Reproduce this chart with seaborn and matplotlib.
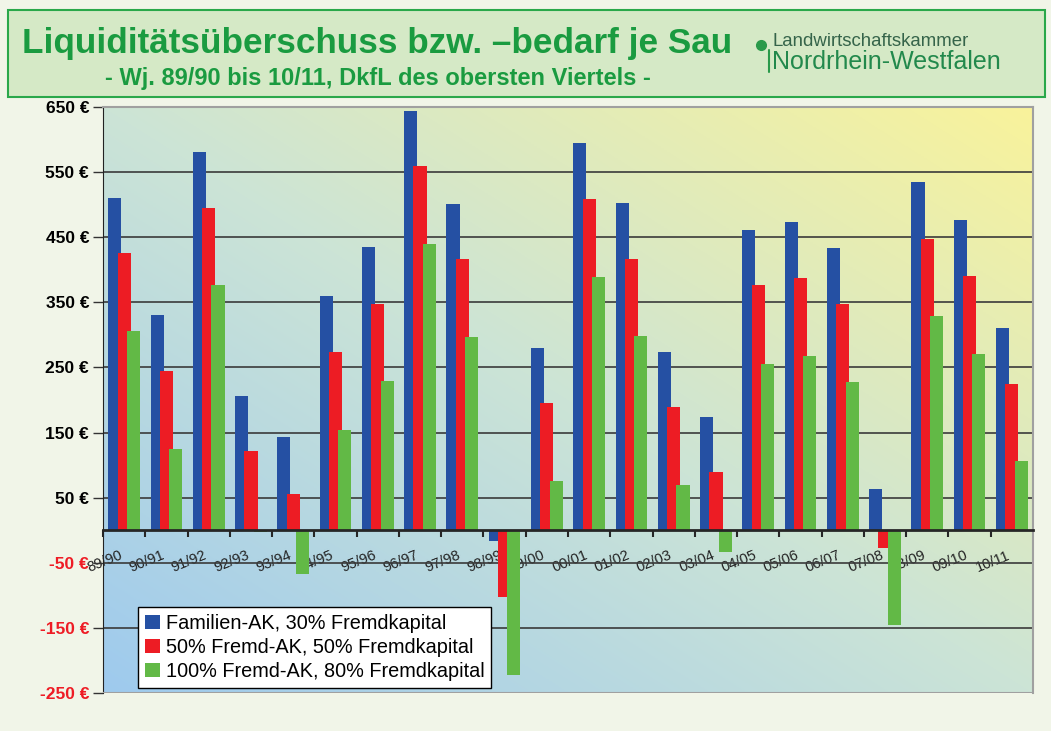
import numpy as np
import pandas as pd
import matplotlib
matplotlib.use("Agg")
import matplotlib.pyplot as plt
import matplotlib.transforms as mtransforms
import seaborn as sns
from matplotlib.patches import Rectangle
from matplotlib.lines import Line2D

# data
seasons = ["89/90", "90/91", "91/92", "92/93", "93/94", "94/95", "95/96", "96/97",
           "97/98", "98/99", "99/00", "00/01", "01/02", "02/03", "03/04", "04/05",
           "05/06", "06/07", "07/08", "08/09", "09/10", "10/11"]
familien_ak = [510, 330, 581, 206, 143, 359, 435, 644, 501, -17, 280, 594,
               503, 274, 174, 461, 474, 433, 63, 535, 476, 311]
fremd_50 = [426, 244, 495, 121, 56, 274, 348, 559, 417, -102, 195, 509,
            417, 189, 89, 376, 388, 348, -27, 448, 391, 224]
fremd_100 = [306, 124, 376, -3, -68, 154, 229, 439, 297, -223, 75, 389,
             298, 69, -34, 256, 268, 227, -146, 329, 270, 106]
series_names = ["Familien-AK, 30% Fremdkapital",
                "50% Fremd-AK, 50% Fremdkapital",
                "100% Fremd-AK, 80% Fremdkapital"]
y_ticks = [-250, -150, -50, 50, 150, 250, 350, 450, 550, 650]

df = pd.DataFrame({
    "season": seasons * 3,
    "series": [series_names[0]] * len(seasons) + [series_names[1]] * len(seasons)
              + [series_names[2]] * len(seasons),
    "value": familien_ak + fremd_50 + fremd_100,
})

sns.set_style("white")
plt.rcParams["font.family"] = ["Liberation Sans", "DejaVu Sans"]
narrow = ["Liberation Sans Narrow", "Liberation Sans", "DejaVu Sans"]

W, H = 1051, 731
fig = plt.figure(figsize=(W / 100, H / 100), dpi=100)
fig.patch.set_facecolor("#f1f5e8")

# title banner
fig.patches.append(Rectangle((8 / W, 1 - 97 / H), (1045 - 8) / W, (97 - 10) / H,
                             transform=fig.transFigure, facecolor="#d5e9c6",
                             edgecolor="#2aa84a", lw=1.5, zorder=0))
fig.text(22 / W, 1 - 44 / H, "Liquiditätsüberschuss bzw. –bedarf je Sau",
         family=narrow, weight="bold", fontsize=25.3, color="#1a9b40", va="center")
fig.text(105 / W, 1 - 78 / H, "- Wj. 89/90 bis 10/11, DkfL des obersten Viertels -",
         family=narrow, weight="bold", fontsize=17, color="#1a9b40", va="center")
# logo
fig.add_artist(Line2D([761 / W], [1 - 45 / H], marker="o", markersize=7,
                      color="#2a9a4a", transform=fig.transFigure))
fig.add_artist(Line2D([769 / W, 769 / W], [1 - 50 / H, 1 - 72 / H], lw=1.5,
                      color="#2a9a4a", transform=fig.transFigure))
fig.text(773 / W, 1 - 41 / H, "Landwirtschaftskammer", family=narrow,
         fontsize=13.4, color="#35644a", va="center")
fig.text(772 / W, 1 - 62 / H, "Nordrhein-Westfalen", family=narrow,
         fontsize=18, color="#22894c", va="center")

ax = fig.add_axes([103 / W, 1 - 693 / H, 930 / W, 586 / H])

# gradient background: blue bottom-left, pale green diagonal, yellow top-right
gx, gy = np.meshgrid(np.linspace(0, 1, 300), np.linspace(0, 1, 300))
t = (gx + gy) / 2
stops = np.array([[158, 202, 238], [204, 228, 214], [249, 243, 155]]) / 255
grad = np.stack([np.interp(t, [0, 0.5, 1], stops[:, k]) for k in range(3)], axis=-1)
ax.imshow(grad, extent=(-0.5, len(seasons) - 0.5, -250, 650),
          origin="lower", aspect="auto", zorder=-10)

sns.barplot(data=df, x="season", y="value", hue="series", hue_order=series_names,
            palette=["#2550a3", "#ed1c24", "#62b946"], saturation=1, width=0.66,
            edgecolor="none", linewidth=0, ax=ax, zorder=3)
# wider, slightly overlapping bars as in the original
for cont in ax.containers:
    for p in cont:
        c = p.get_x() + p.get_width() / 2
        p.set_width(0.31)
        p.set_x(c - 0.155)

ax.set_xlim(-0.5, len(seasons) - 0.5)
ax.set_ylim(-250, 650)
ax.set_yticks(y_ticks)
ax.set_yticklabels([f"{v} €" for v in y_ticks], weight="bold", fontsize=12.5)
for lbl, v in zip(ax.get_yticklabels(), y_ticks):
    lbl.set_color("#ee1c25" if v < 0 else "black")
ax.tick_params(axis="y", length=7, width=1, color="#333333", pad=3, left=True)
ax.yaxis.grid(True, color="#3a3a3a", lw=1.2)
ax.set_axisbelow(True)
ax.set_xlabel("")
ax.set_ylabel("")

# category axis at zero
ax.spines["bottom"].set_position(("data", 0))
ax.spines["bottom"].set_linewidth(2)
ax.spines["bottom"].set_zorder(4)
ax.set_xticks(np.arange(len(seasons)) - 0.5, minor=True)
ax.tick_params(axis="x", which="minor", length=5, width=1.5, direction="out", bottom=True)
ax.set_xticks(np.arange(len(seasons)))
ax.set_xticklabels(seasons, rotation=22, ha="right", rotation_mode="anchor",
                   fontsize=10.5, color="#222222")
ax.tick_params(axis="x", which="major", length=0, pad=13)
shift = mtransforms.ScaledTranslation(-5 / 100, 0, fig.dpi_scale_trans)
for lbl in ax.get_xticklabels():
    lbl.set_transform(lbl.get_transform() + shift)
ax.spines["left"].set_color("#222222")
for s in ["top", "right"]:
    ax.spines[s].set_color("#a0a0a0")
    ax.spines[s].set_linewidth(1.5)
ax.axhline(-250, color="#a0a0a0", lw=1.5, zorder=5)

handles, labels = ax.get_legend_handles_labels()
leg = ax.legend(handles, labels, loc="lower left", bbox_to_anchor=(0.0376, 0.009),
                borderaxespad=0, frameon=True, fancybox=False, edgecolor="black",
                facecolor="white", framealpha=1, fontsize=14.3, handlelength=0.75,
                handleheight=0.75, handletextpad=0.3, labelspacing=0.25, borderpad=0.35)
for txt in leg.get_texts():
    txt.set_color("black")

fig.savefig("out.png", dpi=100, facecolor=fig.get_facecolor())
